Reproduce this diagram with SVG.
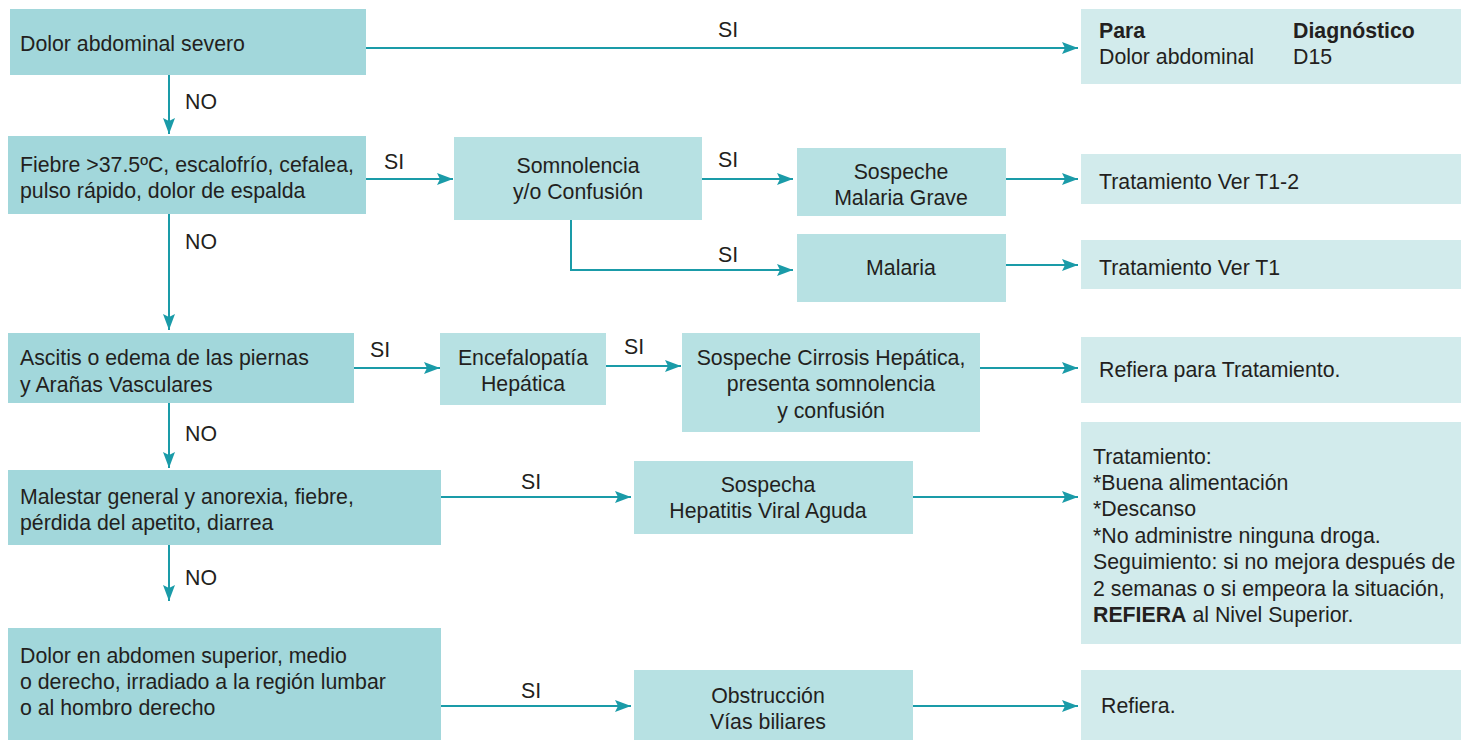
<svg xmlns="http://www.w3.org/2000/svg" width="1461" height="740" viewBox="0 0 1461 740">
<defs>
<style>
.d{fill:#a2d7db}
.m{fill:#b7e1e3}
.r{fill:#d2ebec}
text{font-family:"Liberation Sans",Arial,sans-serif;font-size:21.3px;fill:#231f20}
.c{text-anchor:middle}
.b{font-weight:bold}
.ln{stroke:#1a9ba8;stroke-width:2;fill:none}
</style>
<marker id="ah" viewBox="0 0 16 12" refX="16" refY="6" markerWidth="16" markerHeight="12" markerUnits="userSpaceOnUse" orient="auto">
<path d="M0,0 L16,6 L0,12 L3,6 Z" fill="#1a9ba8"/>
</marker>
</defs>
<rect width="1461" height="740" fill="#ffffff"/>

<g id="connectors">
<path class="ln" d="M366,48 H1078" marker-end="url(#ah)"/>
<path class="ln" d="M169,75 V134" marker-end="url(#ah)"/>
<path class="ln" d="M366,179 H453" marker-end="url(#ah)"/>
<path class="ln" d="M702,179 H793" marker-end="url(#ah)"/>
<path class="ln" d="M571,220 V270 H793" marker-end="url(#ah)"/>
<path class="ln" d="M1006,179 H1078" marker-end="url(#ah)"/>
<path class="ln" d="M1006,265 H1078" marker-end="url(#ah)"/>
<path class="ln" d="M169,214 V330" marker-end="url(#ah)"/>
<path class="ln" d="M354,368 H440" marker-end="url(#ah)"/>
<path class="ln" d="M606,366 H681" marker-end="url(#ah)"/>
<path class="ln" d="M980,368 H1078" marker-end="url(#ah)"/>
<path class="ln" d="M169,403 V468" marker-end="url(#ah)"/>
<path class="ln" d="M441,497 H631" marker-end="url(#ah)"/>
<path class="ln" d="M913,497 H1078" marker-end="url(#ah)"/>
<path class="ln" d="M169,545 V601" marker-end="url(#ah)"/>
<path class="ln" d="M441,706 H631" marker-end="url(#ah)"/>
<path class="ln" d="M913,706 H1078" marker-end="url(#ah)"/>
<text x="728" y="37" class="c">SI</text>
<text x="185" y="109">NO</text>
<text x="394" y="169" class="c">SI</text>
<text x="728" y="167" class="c">SI</text>
<text x="728" y="262" class="c">SI</text>
<text x="185" y="249">NO</text>
<text x="380" y="357" class="c">SI</text>
<text x="634" y="354" class="c">SI</text>
<text x="185" y="441">NO</text>
<text x="531" y="489" class="c">SI</text>
<text x="185" y="585">NO</text>
<text x="531" y="698" class="c">SI</text>
</g>

<g id="n1"><rect class="d" x="10" y="9" width="356" height="66"/><text x="20" y="51">Dolor abdominal severo</text></g>
<g id="n_para"><rect class="r" x="1081" y="9" width="380" height="75"/>
<text x="1099" y="38" class="b">Para</text><text x="1293" y="38" class="b">Diagnóstico</text>
<text x="1099" y="64">Dolor abdominal</text><text x="1293" y="64">D15</text></g>

<g id="n2"><rect class="d" x="8" y="136" width="358" height="78"/><text x="20" y="172">Fiebre &gt;37.5ºC, escalofrío, cefalea,</text><text x="20" y="198">pulso rápido, dolor de espalda</text></g>
<g id="n_somn"><rect class="m" x="454" y="137" width="248" height="83"/><text x="578" y="173" class="c">Somnolencia</text><text x="578" y="199" class="c">y/o Confusión</text></g>
<g id="n_grave"><rect class="m" x="797" y="148" width="209" height="68"/><text x="901" y="179" class="c">Sospeche</text><text x="901" y="205" class="c">Malaria Grave</text></g>
<g id="n_malaria"><rect class="m" x="797" y="234" width="209" height="68"/><text x="901" y="275" class="c">Malaria</text></g>
<g id="n_t12"><rect class="r" x="1081" y="154" width="380" height="50"/><text x="1099" y="189">Tratamiento Ver T1-2</text></g>
<g id="n_t1"><rect class="r" x="1081" y="240" width="380" height="49"/><text x="1099" y="275">Tratamiento Ver T1</text></g>

<g id="n3"><rect class="d" x="8" y="333" width="346" height="70"/><text x="20" y="365">Ascitis o edema de las piernas</text><text x="20" y="392">y Arañas Vasculares</text></g>
<g id="n_ence"><rect class="m" x="440" y="333" width="166" height="72"/><text x="523" y="365" class="c">Encefalopatía</text><text x="523" y="391" class="c">Hepática</text></g>
<g id="n_cirr"><rect class="m" x="682" y="333" width="298" height="99"/><text x="831" y="365" class="c">Sospeche Cirrosis Hepática,</text><text x="831" y="391" class="c">presenta somnolencia</text><text x="831" y="418" class="c">y confusión</text></g>
<g id="n_ref1"><rect class="r" x="1081" y="337" width="380" height="66"/><text x="1099" y="377">Refiera para Tratamiento.</text></g>

<g id="n4"><rect class="d" x="8" y="470" width="433" height="75"/><text x="20" y="504">Malestar general y anorexia, fiebre,</text><text x="20" y="530">pérdida del apetito, diarrea</text></g>
<g id="n_hep"><rect class="m" x="634" y="461" width="279" height="73"/><text x="768" y="492" class="c">Sospecha</text><text x="768" y="518" class="c">Hepatitis Viral Aguda</text></g>
<g id="n_trat"><rect class="r" x="1081" y="422" width="380" height="222"/>
<text x="1093" y="464">Tratamiento:</text>
<text x="1093" y="490">*Buena alimentación</text>
<text x="1093" y="516">*Descanso</text>
<text x="1093" y="543">*No administre ninguna droga.</text>
<text x="1093" y="569">Seguimiento: si no mejora después de</text>
<text x="1093" y="596">2 semanas o si empeora la situación,</text>
<text x="1093" y="622"><tspan class="b">REFIERA</tspan> al Nivel Superior.</text></g>

<g id="n5"><rect class="d" x="8" y="628" width="433" height="112"/><text x="20" y="663">Dolor en abdomen superior, medio</text><text x="20" y="689">o derecho, irradiado a la región lumbar</text><text x="20" y="715">o al hombro derecho</text></g>
<g id="n_obs"><rect class="m" x="634" y="670" width="279" height="70"/><text x="768" y="703" class="c">Obstrucción</text><text x="768" y="729" class="c">Vías biliares</text></g>
<g id="n_ref2"><rect class="r" x="1081" y="670" width="380" height="70"/><text x="1101" y="713">Refiera.</text></g>
</svg>
